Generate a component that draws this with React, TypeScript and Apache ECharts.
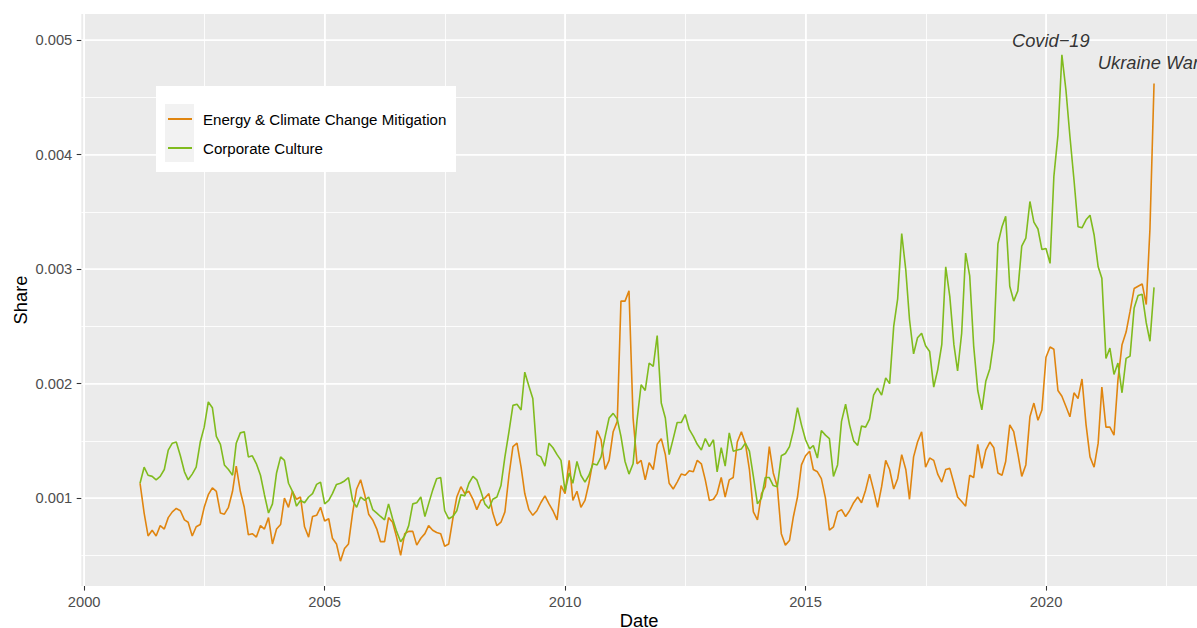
import React, { useEffect, useRef } from "react";
import * as echarts from "echarts";

// ---- data (monthly, first month = March 2001) ----
const firstYear = 2001;
const firstMonth = 3;

const seriesNames = ["Energy & Climate Change Mitigation", "Corporate Culture"];

const energy = [
  0.00113,0.00087,0.00067,0.00072,0.00067,0.00076,0.00073,0.00083,0.00088,0.00091,
  0.00089,0.00081,0.00079,0.00067,0.00075,0.00077,0.00092,0.00103,0.00109,0.00106,
  0.00087,0.00086,0.00092,0.00106,0.00128,0.00106,0.00092,0.00068,0.00069,0.00066,
  0.00076,0.00073,0.00083,0.00060,0.00073,0.00077,0.00100,0.00092,0.00106,0.00099,
  0.00101,0.00075,0.00066,0.00084,0.00085,0.00092,0.00080,0.00082,0.00065,0.00060,
  0.00045,0.00056,0.00060,0.00087,0.00108,0.00116,0.00103,0.00086,0.00081,0.00073,
  0.00062,0.00062,0.00083,0.00079,0.00066,0.00050,0.00069,0.00071,0.00071,0.00059,
  0.00065,0.00069,0.00076,0.00072,0.00070,0.00069,0.00058,0.00060,0.00082,0.00101,
  0.00110,0.00104,0.00106,0.00099,0.00090,0.00098,0.00100,0.00104,0.00087,0.00076,
  0.00079,0.00088,0.00120,0.00145,0.00148,0.00127,0.00104,0.00090,0.00085,0.00089,
  0.00096,0.00102,0.00095,0.00089,0.00081,0.00111,0.00104,0.00133,0.00098,0.00106,
  0.00092,0.00098,0.00113,0.00133,0.00159,0.00151,0.00125,0.00133,0.00158,0.00167,
  0.00272,0.00272,0.00281,0.00170,0.00130,0.00133,0.00116,0.00131,0.00125,0.00147,
  0.00152,0.00138,0.00113,0.00108,0.00114,0.00121,0.00120,0.00124,0.00123,0.00133,
  0.00130,0.00116,0.00098,0.00099,0.00104,0.00118,0.00101,0.00116,0.00118,0.00149,
  0.00158,0.00148,0.00125,0.00088,0.00081,0.00104,0.00110,0.00145,0.00122,0.00110,
  0.00069,0.00059,0.00063,0.00084,0.00101,0.00129,0.00137,0.00141,0.00125,0.00123,
  0.00117,0.00100,0.00072,0.00075,0.00088,0.00090,0.00084,0.00089,0.00096,0.00101,
  0.00096,0.00107,0.00121,0.00107,0.00092,0.00110,0.00133,0.00125,0.00108,0.00117,
  0.00138,0.00125,0.00099,0.00136,0.00149,0.00158,0.00127,0.00135,0.00133,0.00121,
  0.00114,0.00125,0.00126,0.00113,0.00101,0.00097,0.00093,0.00120,0.00118,0.00147,
  0.00126,0.00142,0.00149,0.00144,0.00122,0.00120,0.00132,0.00164,0.00158,0.00139,
  0.00119,0.00129,0.00171,0.00183,0.00168,0.00177,0.00223,0.00232,0.00230,0.00194,
  0.00189,0.00180,0.00171,0.00192,0.00187,0.00204,0.00164,0.00136,0.00127,0.00148,
  0.00197,0.00162,0.00162,0.00155,0.00203,0.00234,0.00245,0.00263,0.00283,0.00285,
  0.00287,0.00269,0.00335,0.00462,
];

const culture = [
  0.00113,0.00127,0.00120,0.00119,0.00116,0.00119,0.00125,0.00142,0.00148,0.00149,
  0.00137,0.00123,0.00116,0.00121,0.00127,0.00149,0.00162,0.00184,0.00179,0.00154,
  0.00147,0.00129,0.00125,0.00120,0.00148,0.00157,0.00158,0.00136,0.00137,0.00130,
  0.00120,0.00103,0.00087,0.00095,0.00122,0.00136,0.00133,0.00113,0.00106,0.00093,
  0.00098,0.00096,0.00101,0.00104,0.00112,0.00114,0.00095,0.00098,0.00104,0.00112,
  0.00113,0.00115,0.00118,0.00098,0.00092,0.00101,0.00098,0.00101,0.00090,0.00087,
  0.00084,0.00081,0.00095,0.00082,0.00071,0.00062,0.00067,0.00076,0.00095,0.00096,
  0.00101,0.00084,0.00095,0.00107,0.00117,0.00118,0.00089,0.00082,0.00084,0.00089,
  0.00103,0.00102,0.00113,0.00119,0.00116,0.00106,0.00095,0.00091,0.00099,0.00101,
  0.00111,0.00136,0.00158,0.00181,0.00182,0.00177,0.00210,0.00198,0.00187,0.00138,
  0.00136,0.00128,0.00148,0.00144,0.00138,0.00133,0.00106,0.00122,0.00113,0.00132,
  0.00120,0.00114,0.00120,0.00130,0.00129,0.00136,0.00154,0.00170,0.00174,0.00169,
  0.00154,0.00132,0.00121,0.00130,0.00168,0.00199,0.00194,0.00218,0.00215,0.00242,
  0.00183,0.00170,0.00138,0.00152,0.00166,0.00166,0.00173,0.00160,0.00154,0.00147,
  0.00142,0.00152,0.00145,0.00151,0.00123,0.00144,0.00128,0.00157,0.00141,0.00142,
  0.00143,0.00148,0.00141,0.00119,0.00095,0.00100,0.00118,0.00118,0.00111,0.00110,
  0.00137,0.00139,0.00145,0.00159,0.00179,0.00164,0.00151,0.00143,0.00146,0.00135,
  0.00159,0.00155,0.00152,0.00119,0.00129,0.00167,0.00182,0.00164,0.00150,0.00146,
  0.00163,0.00162,0.00169,0.00190,0.00196,0.00190,0.00205,0.00200,0.00250,0.00274,
  0.00331,0.00299,0.00256,0.00226,0.00240,0.00244,0.00233,0.00228,0.00197,0.00212,
  0.00234,0.00302,0.00276,0.00234,0.00211,0.00244,0.00314,0.00294,0.00233,0.00194,
  0.00177,0.00202,0.00213,0.00237,0.00322,0.00337,0.00346,0.00285,0.00272,0.00281,
  0.00320,0.00327,0.00359,0.00341,0.00335,0.00317,0.00318,0.00305,0.00381,0.00417,
  0.00487,0.00456,0.00416,0.00378,0.00337,0.00336,0.00343,0.00347,0.00330,0.00302,
  0.00292,0.00222,0.00231,0.00208,0.00218,0.00192,0.00222,0.00224,0.00266,0.00277,
  0.00278,0.00253,0.00237,0.00284,
];

const annotationTexts = ["Covid\u221219", "Ukraine War"];
const annotationX = [2020.1, 2022.13];
const annotationY = [0.005, 0.0048];

// axis extents & ticks
const X_MIN = 1999.94;
const X_MAX = 2023.14;
const Y_MIN = 0.000233;
const Y_MAX = 0.005227;
const X_MAJOR = 5;
const X_MINOR = 2.5;
const Y_MAJOR = 0.001;
const Y_MINOR = 0.0005;

const ORANGE = "#E0850F";
const GREEN = "#80BB1E";
const FONT = "'Liberation Sans', Arial, Helvetica, sans-serif";

// dates of the monthly observations
const dates: string[] = energy.map((_, i) => {
  const m = firstMonth - 1 + i;
  const y = firstYear + Math.floor(m / 12);
  return `${y}-${String((m % 12) + 1).padStart(2, "0")}-01`;
});

function decimalYear(d: string): number {
  const [y, mo, da] = d.split("-").map(Number);
  const start = Date.UTC(y, 0, 1);
  const end = Date.UTC(y + 1, 0, 1);
  return y + (Date.UTC(y, mo - 1, da) - start) / (end - start);
}

const xs = dates.map(decimalYear);

export default function App() {
  const ref = useRef<HTMLDivElement>(null);

  useEffect(() => {
    if (!ref.current) return;
    const chart = echarts.init(ref.current, null, { renderer: "svg" });

    const labelStyle = { fontSize: 14.7, color: "#4D4D4D", fontFamily: FONT };
    const tickStyle = { show: true, length: 4.6, lineStyle: { color: "#333333", width: 1.07 } };
    const majorLine = { show: true, showMinLine: false, showMaxLine: false, lineStyle: { color: "#FFFFFF", width: 1.7 } };
    const minorLine = { show: true, showMinLine: false, showMaxLine: false, lineStyle: { color: "#FFFFFF", width: 0.85 } };

    const option: any = {
      animation: false,
      textStyle: { fontFamily: FONT },
      grid: {
        left: 81.3,
        right: 0,
        top: 14,
        bottom: 42,
        show: true,
        backgroundColor: "#EBEBEB",
        borderWidth: 0,
        outerBoundsMode: "none",
        containLabel: false,
      },
      xAxis: [
        {
          type: "value",
          min: X_MIN,
          max: X_MAX,
          minInterval: X_MAJOR,
          maxInterval: X_MAJOR,
          position: "bottom",
          name: "Date",
          nameLocation: "middle",
          nameGap: 26,
          nameMoveOverlap: false,
          nameTextStyle: { fontSize: 18.3, color: "#000000", fontFamily: FONT, lineHeight: 16 },
          axisLine: { show: false },
          axisTick: tickStyle,
          axisLabel: {
            ...labelStyle,
            margin: 8,
            showMinLabel: false,
            showMaxLabel: false,
            formatter: (v: number) => String(Math.round(v)),
          },
          splitLine: majorLine,
          z: 1,
        },
        {
          type: "value",
          min: X_MIN,
          max: X_MAX,
          minInterval: X_MINOR,
          maxInterval: X_MINOR,
          position: "top",
          axisLine: { show: false },
          axisTick: { show: false },
          axisLabel: { show: false },
          splitLine: minorLine,
          z: 0,
        },
      ],
      yAxis: [
        {
          type: "value",
          min: Y_MIN,
          max: Y_MAX,
          minInterval: Y_MAJOR,
          maxInterval: Y_MAJOR,
          position: "left",
          name: "Share",
          nameLocation: "middle",
          nameGap: 52,
          nameMoveOverlap: false,
          nameRotate: 90,
          nameTextStyle: { fontSize: 18.3, color: "#000000", fontFamily: FONT },
          axisLine: { show: false },
          axisTick: tickStyle,
          axisLabel: {
            ...labelStyle,
            margin: 9,
            showMinLabel: false,
            showMaxLabel: false,
            formatter: (v: number) => v.toFixed(3),
          },
          splitLine: majorLine,
          z: 1,
        },
        {
          type: "value",
          min: Y_MIN,
          max: Y_MAX,
          minInterval: Y_MINOR,
          maxInterval: Y_MINOR,
          position: "right",
          axisLine: { show: false },
          axisTick: { show: false },
          axisLabel: { show: false },
          splitLine: minorLine,
          z: 0,
        },
      ],
      legend: {
        orient: "vertical",
        left: 168,
        top: 110,
        padding: 0,
        itemWidth: 24,
        itemHeight: 2,
        itemGap: 11,
        icon: "rect",
        data: seriesNames,
        textStyle: { fontSize: 15.1, color: "#000000", lineHeight: 18, fontFamily: FONT, padding: [0, 0, 0, 6] },
        z: 10,
      },
      graphic: [
        { type: "rect", z: 8, shape: { x: 156, y: 86, width: 300, height: 86 }, style: { fill: "#FFFFFF" } },
        { type: "rect", z: 9, shape: { x: 165, y: 104, width: 29, height: 58 }, style: { fill: "#F2F2F2" } },
      ],
      series: [
        {
          type: "line",
          name: seriesNames[0],
          data: xs.map((x, i) => [x, energy[i]]),
          showSymbol: false,
          symbol: "none",
          lineStyle: { color: ORANGE, width: 1.6 },
          itemStyle: { color: ORANGE },
          z: 3,
        },
        {
          type: "line",
          name: seriesNames[1],
          data: xs.map((x, i) => [x, culture[i]]),
          showSymbol: false,
          symbol: "none",
          lineStyle: { color: GREEN, width: 1.6 },
          itemStyle: { color: GREEN },
          z: 4,
        },
        {
          type: "scatter",
          name: "annotations",
          silent: true,
          symbolSize: 0,
          data: annotationX.map((x, i) => [x, annotationY[i], annotationTexts[i]]),
          label: {
            show: true,
            position: "inside",
            formatter: (p: any) => p.data[2],
            fontStyle: "italic",
            fontSize: 18.3,
            color: "#000000",
            fontFamily: FONT,
          },
          z: 5,
        },
      ],
    };

    chart.setOption(option);
    return () => chart.dispose();
  }, []);

  return (
    <div
      ref={ref}
      style={{ position: "absolute", left: 0, top: 0, width: 1197, height: 628, background: "#FFFFFF" }}
    />
  );
}
